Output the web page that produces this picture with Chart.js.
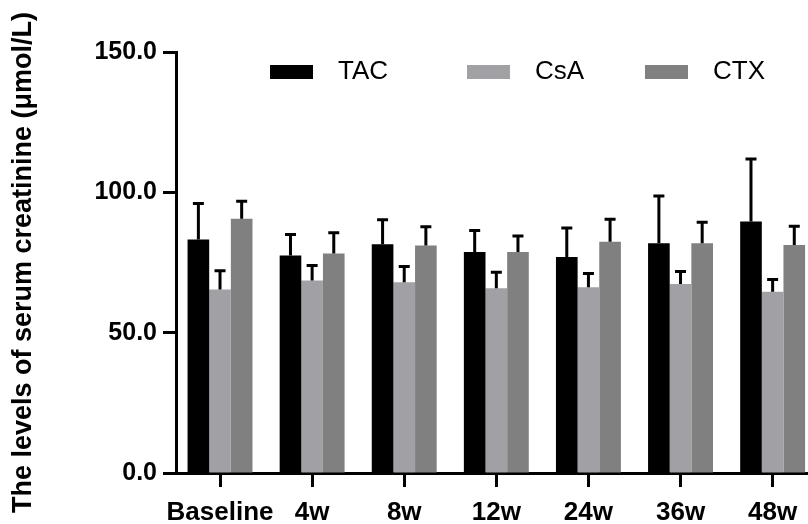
<!DOCTYPE html>
<html>
<head>
<meta charset="utf-8">
<script src="https://cdn.jsdelivr.net/npm/chart.js@4/dist/chart.umd.min.js"></script>
<style>
  html, body { margin: 0; padding: 0; background: #fff; overflow: hidden; }
  #wrap { width: 808px; height: 524px; }
</style>
</head>
<body>
<div id="wrap"><canvas id="c" width="808" height="524"></canvas></div>
<script>
// serum creatinine per time point, mean and upper SD
const categories = ['Baseline', '4w', '8w', '12w', '24w', '36w', '48w'];
const tacMean = [83.2, 77.5, 81.5, 78.7, 77.0, 81.9, 89.6];
const tacSd   = [12.8, 7.5, 8.7, 7.7, 10.3, 16.8, 22.3];
const csaMean = [65.4, 68.6, 68.0, 65.8, 66.2, 67.3, 64.6];
const csaSd   = [6.7, 5.3, 5.6, 5.7, 4.9, 4.5, 4.3];
const ctxMean = [90.6, 78.2, 81.1, 78.7, 82.4, 81.9, 81.2];
const ctxSd   = [6.2, 7.4, 6.6, 5.7, 8.0, 7.4, 6.7];
const yTicks  = [0, 50, 100, 150];

Chart.defaults.font.family = "'Liberation Sans', Arial, sans-serif";
Chart.defaults.color = '#000';

function points(vals) {
    return vals.map((v, i) => ({ x: i, y: v }));
}

// upper error bars with caps
const errorBars = {
    id: 'errorBars',
    afterDatasetsDraw(chart) {
        const ctx = chart.ctx;
        const yScale = chart.scales.y;
        ctx.save();
        ctx.strokeStyle = '#000';
        ctx.lineWidth = 3;
        chart.data.datasets.forEach((ds, di) => {
            const meta = chart.getDatasetMeta(di);
            meta.data.forEach((bar, i) => {
                const top = yScale.getPixelForValue(ds.data[i].y + ds.errors[i]);
                ctx.beginPath();
                ctx.moveTo(bar.x, bar.y);
                ctx.lineTo(bar.x, top);
                ctx.moveTo(bar.x - 5.5, top);
                ctx.lineTo(bar.x + 5.5, top);
                ctx.stroke();
            });
        });
        ctx.restore();
    }
};

// legend row inside the plot, like the original figure
const topLegend = {
    id: 'topLegend',
    afterDraw(chart) {
        const ctx = chart.ctx;
        const xs = [270, 467, 645];
        ctx.save();
        ctx.font = "26px 'Liberation Sans', Arial, sans-serif";
        ctx.textBaseline = 'middle';
        chart.data.datasets.forEach((ds, i) => {
            ctx.fillStyle = ds.backgroundColor;
            ctx.fillRect(xs[i], 65, 43, 14);
            ctx.fillStyle = '#000';
            ctx.fillText(ds.label, xs[i] + 68, 72);
        });
        ctx.restore();
    }
};

new Chart(document.getElementById('c').getContext('2d'), {
    type: 'bar',
    data: {
        datasets: [
            { label: 'TAC', data: points(tacMean), errors: tacSd, backgroundColor: '#000000' },
            { label: 'CsA', data: points(csaMean), errors: csaSd, backgroundColor: '#a1a1a5' },
            { label: 'CTX', data: points(ctxMean), errors: ctxSd, backgroundColor: '#808080' }
        ]
    },
    options: {
        responsive: false,
        animation: false,
        categoryPercentage: 0.705,
        barPercentage: 1,
        layout: { padding: { top: 52, right: 0, bottom: 0, left: 0 } },
        plugins: { legend: { display: false }, tooltip: { enabled: false } },
        scales: {
            x: {
                type: 'linear',
                min: -0.478,
                max: 6.384,
                offset: false,
                afterBuildTicks(s) { s.ticks = categories.map((c, i) => ({ value: i })); },
                afterFit(s) { s.height = 51; },
                grid: { display: true, drawOnChartArea: false, drawTicks: true, offset: false,
                        tickLength: 14, tickWidth: 3, tickColor: '#000' },
                border: { display: true, width: 3, color: '#000' },
                ticks: {
                    autoSkip: false, maxRotation: 0, padding: 10,
                    font: { size: 26, weight: 'bold' },
                    callback: (v) => categories[v] ?? ''
                }
            },
            y: {
                min: 0,
                max: 150,
                afterBuildTicks(s) { s.ticks = yTicks.map(v => ({ value: v })); },
                afterFit(s) { s.width = 176; },
                grid: { display: true, drawOnChartArea: false, drawTicks: true,
                        tickLength: 13, tickWidth: 3, tickColor: '#000' },
                border: { display: true, width: 3, color: '#000' },
                ticks: {
                    padding: 6,
                    font: { size: 25, weight: 'bold' },
                    callback: (v) => v.toFixed(1)
                },
                title: {
                    display: true,
                    text: 'The levels of serum creatinine (μmol/L)',
                    font: { size: 27, weight: 'bold' },
                    padding: { top: 7, bottom: 0 }
                }
            }
        }
    },
    plugins: [errorBars, topLegend]
});
</script>
</body>
</html>
